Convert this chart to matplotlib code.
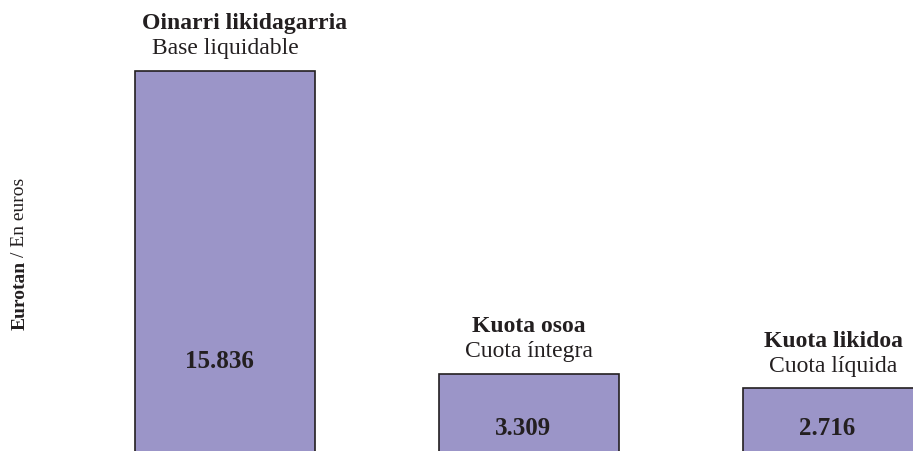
import matplotlib
matplotlib.use("Agg")
import matplotlib.pyplot as plt

# data
values = [15836, 3309, 2716]
value_labels = ["15.836", "3.309", "2.716"]
names_eu = ["Oinarri likidagarria", "Kuota osoa", "Kuota likidoa"]
names_es = ["Base liquidable", "Cuota íntegra", "Cuota líquida"]

bar_color = "#9b95c8"
ink = "#231f20"
plt.rcParams["font.family"] = ["Liberation Serif", "DejaVu Serif"]

fig = plt.figure(figsize=(9.13, 4.51), dpi=100)
ax = fig.add_axes([0, 0, 1, 1])
ax.axis("off")

x = range(len(values))
ax.bar(x, values, width=0.59, color=bar_color, edgecolor=ink, linewidth=1.2)

# where the number sits inside each bar (data units), small nudges in points
label_y = [3550, 790, 790]
eu_dx = [14, 0, 0]
for i, v in enumerate(values):
    ax.annotate(value_labels[i], (i, label_y[i]), xytext=(-4, 0), textcoords="offset points",
                ha="center", va="baseline", fontsize=18, fontweight="bold", color=ink)
    ax.annotate(names_es[i], (i, v), xytext=(0, 12), textcoords="offset points",
                ha="center", va="baseline", fontsize=17, color=ink)
    ax.annotate(names_eu[i], (i, v), xytext=(eu_dx[i], 30), textcoords="offset points",
                ha="center", va="baseline", fontsize=17, fontweight="bold", color=ink)

ax.set_xlim(-0.740, 2.263)
ax.set_ylim(124, 18768)

# y axis title, bold part then regular part
t1 = fig.text(20 / 913, 1 - 330 / 451, "Eurotan", rotation=90, ha="center", va="bottom",
              fontsize=14, fontweight="bold", color=ink)
fig.canvas.draw()
bb = t1.get_window_extent()
fig.text(20 / 913, (bb.y1 + 4) / 451, "/ En euros", rotation=90, ha="center", va="bottom",
         fontsize=14, color=ink)

fig.savefig("out.png", dpi=100)
